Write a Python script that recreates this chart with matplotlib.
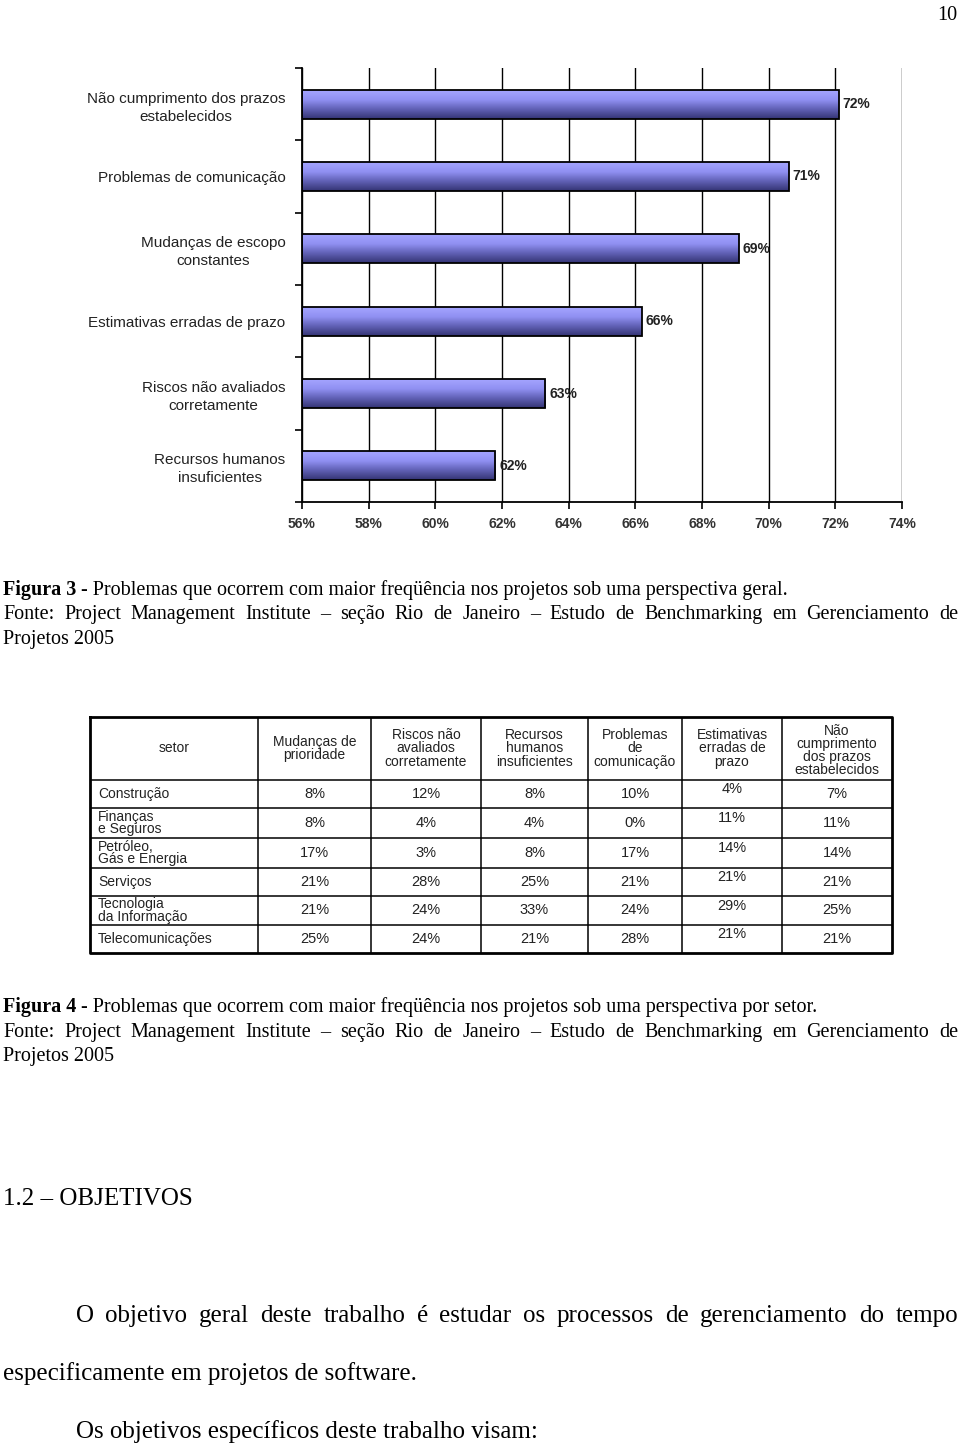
import matplotlib
matplotlib.use('Agg')
import matplotlib.pyplot as plt
import numpy as np

# Figura 3 - dados do grafico de barras
problemas = ['Não cumprimento dos prazos\nestabelecidos', 'Problemas de comunicação',
             'Mudanças de escopo\nconstantes', 'Estimativas erradas de prazo',
             'Riscos não avaliados\ncorretamente', 'Recursos humanos\ninsuficientes']
percentuais = [72.1, 70.6, 69.1, 66.2, 63.3, 61.8]
rotulos = ['72%', '71%', '69%', '66%', '63%', '62%']
eixo_x = [56, 58, 60, 62, 64, 66, 68, 70, 72, 74]

# Figura 4 - dados da tabela por setor
setores = ['Construção', 'Finanças\ne Seguros', 'Petróleo,\nGás e Energia', 'Serviços',
           'Tecnologia\nda Informação', 'Telecomunicações']
colunas = ['setor', 'Mudanças de\nprioridade', 'Riscos não\navaliados\ncorretamente',
           'Recursos\nhumanos\ninsuficientes', 'Problemas\nde\ncomunicação',
           'Estimativas\nerradas de\nprazo', 'Não\ncumprimento\ndos prazos\nestabelecidos']
mudancas = [8, 8, 17, 21, 21, 25]
riscos = [12, 4, 3, 28, 24, 24]
recursos = [8, 4, 8, 25, 33, 21]
comunicacao = [10, 0, 17, 21, 24, 28]
estimativas = [4, 11, 14, 21, 29, 21]
prazos = [7, 11, 14, 21, 25, 21]

W, H = 960, 1446
SANS = ['Liberation Sans', 'DejaVu Sans']
SERIF = ['Liberation Serif', 'DejaVu Serif']

fig = plt.figure(figsize=(W / 100, H / 100), dpi=100)
fig.patch.set_facecolor('white')


def fy(y):
    return 1 - y / H


# ---------------- grafico de barras ----------------
ax = fig.add_axes([302 / W, fy(502), 600 / W, 434 / H])
pos = np.arange(len(problemas))
barras = ax.barh(pos, [p - 56 for p in percentuais], left=56, height=0.4,
                 facecolor='none', edgecolor='black', linewidth=1.3, zorder=3)
grad = np.linspace(0, 1, 64).reshape(-1, 1)
cmap = matplotlib.colors.LinearSegmentedColormap.from_list(
    'lilas', ['#a4a4ff', '#9090f2', '#6060b4', '#343474'])
for b, p, yy, rot in zip(barras, percentuais, pos, rotulos):
    im = ax.imshow(grad, cmap=cmap, aspect='auto', extent=[56, p, yy + 0.2, yy - 0.2],
                   zorder=2, interpolation='bilinear')
    im.set_clip_path(b)
    ax.text(p + 0.12, yy, rot, va='center', ha='left',
            fontsize=10, fontweight='bold', family=SANS, color='#222222', zorder=4)

ax.set_xlim(56, 74)
ax.set_ylim(5.5, -0.5)
ax.set_xticks(eixo_x)
ax.set_xticklabels([f'{v}%' for v in eixo_x], fontsize=10, family=SANS, fontweight='bold',
                   color='#333333')
ax.set_yticks(pos)
ax.set_yticklabels(problemas, fontsize=11, family=SANS, multialignment='center',
                   color='#222222', linespacing=1.35)
ax.set_yticks(np.arange(-0.5, 6, 1), minor=True)
ax.tick_params(axis='y', which='major', length=0, pad=12)
ax.tick_params(axis='y', which='minor', length=5, width=1.2, direction='out')
ax.tick_params(axis='x', length=5, width=1.2, direction='out', pad=6)
ax.grid(axis='x', color='black', linewidth=1, zorder=1)
ax.set_axisbelow(True)
for s in ['top', 'right']:
    ax.spines[s].set_visible(False)
ax.spines['left'].set_linewidth(1.3)
ax.spines['bottom'].set_linewidth(1.3)

# ---------------- tabela ----------------
tx = fig.add_axes([88 / W, fy(955), 806 / W, 240 / H])
tx.set_xlim(-2, 804)
tx.set_ylim(238, -2)
tx.axis('off')
xcol = [0, 168, 281, 391, 498, 592, 692, 802]
ylin = [0, 63, 91, 121, 151, 179, 208, 236]
tx.vlines(xcol[1:-1], 0, 236, color='black', linewidth=1.1)
tx.hlines(ylin[1:-1], 0, 802, color='black', linewidth=1.1)
tx.plot([0, 802, 802, 0, 0], [0, 0, 236, 236, 0], color='black', linewidth=2)

for i, c in enumerate(colunas):
    xc = (xcol[i] + xcol[i + 1]) / 2
    yc = ylin[1] / 2 if i != len(colunas) - 1 else ylin[1] / 2 + 2
    tx.text(xc, yc, c, ha='center', va='center', fontsize=10, family=SANS,
            linespacing=0.92, color='#222222')

valores = [mudancas, riscos, recursos, comunicacao, estimativas, prazos]
for r, s in enumerate(setores):
    yc = (ylin[r + 1] + ylin[r + 2]) / 2
    tx.text(8, yc, s, ha='left', va='center', fontsize=10, family=SANS,
            linespacing=0.88, color='#222222')
    for j, col in enumerate(valores):
        xc = (xcol[j + 1] + xcol[j + 2]) / 2
        dy = -5 if j == 4 else 0
        tx.text(xc, yc + dy, f'{col[r]}%', ha='center', va='center', fontsize=10.5,
                family=SANS, color='#222222')

# ---------------- texto da pagina ----------------
renderer = fig.canvas.get_renderer()


def justificar(texto, x0, x1, y, **kw):
    palavras = texto.split(' ')
    objs = [fig.text(0, fy(y), p, va='baseline', ha='left', **kw) for p in palavras]
    larg = [o.get_window_extent(renderer).width for o in objs]
    gap = (x1 - x0 - sum(larg)) / (len(palavras) - 1)
    x = x0
    for o, w in zip(objs, larg):
        o.set_x(x / W)
        x += w + gap


def linha(texto, x0, y, **kw):
    return fig.text(x0 / W, fy(y), texto, va='baseline', ha='left', **kw)


def legenda(num, desc, y):
    t = linha(f'Figura {num}', 3, y, family=SERIF, fontsize=14.5, fontweight='bold')
    w = t.get_window_extent(renderer).width
    linha(' - ' + desc, 3 + w, y, family=SERIF, fontsize=14.5)


fonte = ('Fonte: Project Management Institute \u2013 seção Rio de Janeiro \u2013 '
         'Estudo de Benchmarking em Gerenciamento de')

linha('10', 937, 20, family=SERIF, fontsize=14.5)

legenda(3, 'Problemas que ocorrem com maior freqüência nos projetos sob uma perspectiva geral.', 595)
justificar(fonte, 3, 958, 619, family=SERIF, fontsize=14.5)
linha('Projetos 2005', 3, 644, family=SERIF, fontsize=14.5)

legenda(4, 'Problemas que ocorrem com maior freqüência nos projetos sob uma perspectiva por setor.', 1012)
justificar(fonte, 3, 958, 1037, family=SERIF, fontsize=14.5)
linha('Projetos 2005', 3, 1061, family=SERIF, fontsize=14.5)

linha('1.2 \u2013 OBJETIVOS', 3, 1205, family=SERIF, fontsize=18)
justificar('O objetivo geral deste trabalho é estudar os processos de gerenciamento do tempo',
           76, 958, 1322, family=SERIF, fontsize=18)
linha('especificamente em projetos de software.', 3, 1380, family=SERIF, fontsize=18)
linha('Os objetivos específicos deste trabalho visam:', 76, 1438, family=SERIF, fontsize=18)

fig.savefig('out.png', dpi=100)
